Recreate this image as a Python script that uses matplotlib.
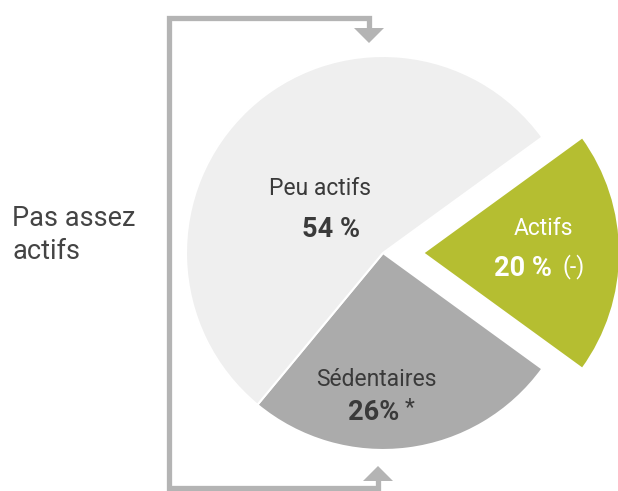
import matplotlib
matplotlib.use("Agg")
import matplotlib.pyplot as plt
from matplotlib.patches import Polygon
from matplotlib.lines import Line2D

plt.rcParams['font.family'] = ['Roboto', 'DejaVu Sans']

# Data
categories = ["Actifs", "Sédentaires", "Peu actifs"]
values = [20, 26, 54]
value_labels = ["20 %", "26%", "54 %"]
notes = ["(-)", "*", ""]
colors = ["#b5be31", "#ababab", "#efefef"]
group_label = "Pas assez\nactifs"

W, H = 618, 491
fig = plt.figure(figsize=(W / 100, H / 100), dpi=100)
ax = fig.add_axes([0, 0, 1, 1])

def Y(py):
    return H - py

cx, cy, r = 383, Y(253), 197
ax.pie(values, colors=colors, startangle=36, counterclock=False,
       center=(cx, cy), radius=r, explode=[40, 0, 0], frame=True,
       wedgeprops=dict(edgecolor='white', linewidth=1.5))
ax.set_xlim(0, W)
ax.set_ylim(0, H)
ax.set_aspect('equal')
ax.axis('off')

# bracket with arrows
lc = "#b4b4b4"
lw = 3.8
ax.add_line(Line2D([369, 369, 169, 169, 378, 378],
                   [Y(29), Y(18), Y(18), Y(488), Y(488), Y(480)],
                   color=lc, lw=lw, solid_joinstyle='miter', solid_capstyle='butt'))
ax.add_patch(Polygon([(354, Y(28)), (384, Y(28)), (369, Y(43))], closed=True,
                     facecolor=lc, edgecolor='none'))
ax.add_patch(Polygon([(363, Y(481)), (393, Y(481)), (378, Y(466))], closed=True,
                     facecolor=lc, edgecolor='none'))

tc = "#3a3a3a"
fs = 16.5
bfs = 19.5
ax.text(12, Y(235), group_label, ha='left', va='center', fontsize=19.5,
        color="#444444", linespacing=1.3)

# Peu actifs
ax.text(320, Y(188), categories[2], ha='center', va='center', fontsize=fs, color=tc)
ax.text(331, Y(229), value_labels[2], ha='center', va='center', fontsize=bfs,
        fontweight='bold', color=tc)

# Actifs
ax.text(543, Y(228), categories[0], ha='center', va='center', fontsize=fs, color='white')
ax.text(523, Y(268), value_labels[0], ha='center', va='center', fontsize=bfs,
        fontweight='bold', color='white')
ax.text(574, Y(267), notes[0], ha='center', va='center', fontsize=fs, color='white')

# Sédentaires
ax.text(376, Y(380), categories[1], ha='center', va='center', fontsize=fs, color=tc)
ax.text(374, Y(412), value_labels[1], ha='center', va='center', fontsize=bfs,
        fontweight='bold', color=tc)
ax.text(410, Y(408), notes[1], ha='center', va='center', fontsize=fs, color=tc)

fig.savefig("out.png", dpi=100)
